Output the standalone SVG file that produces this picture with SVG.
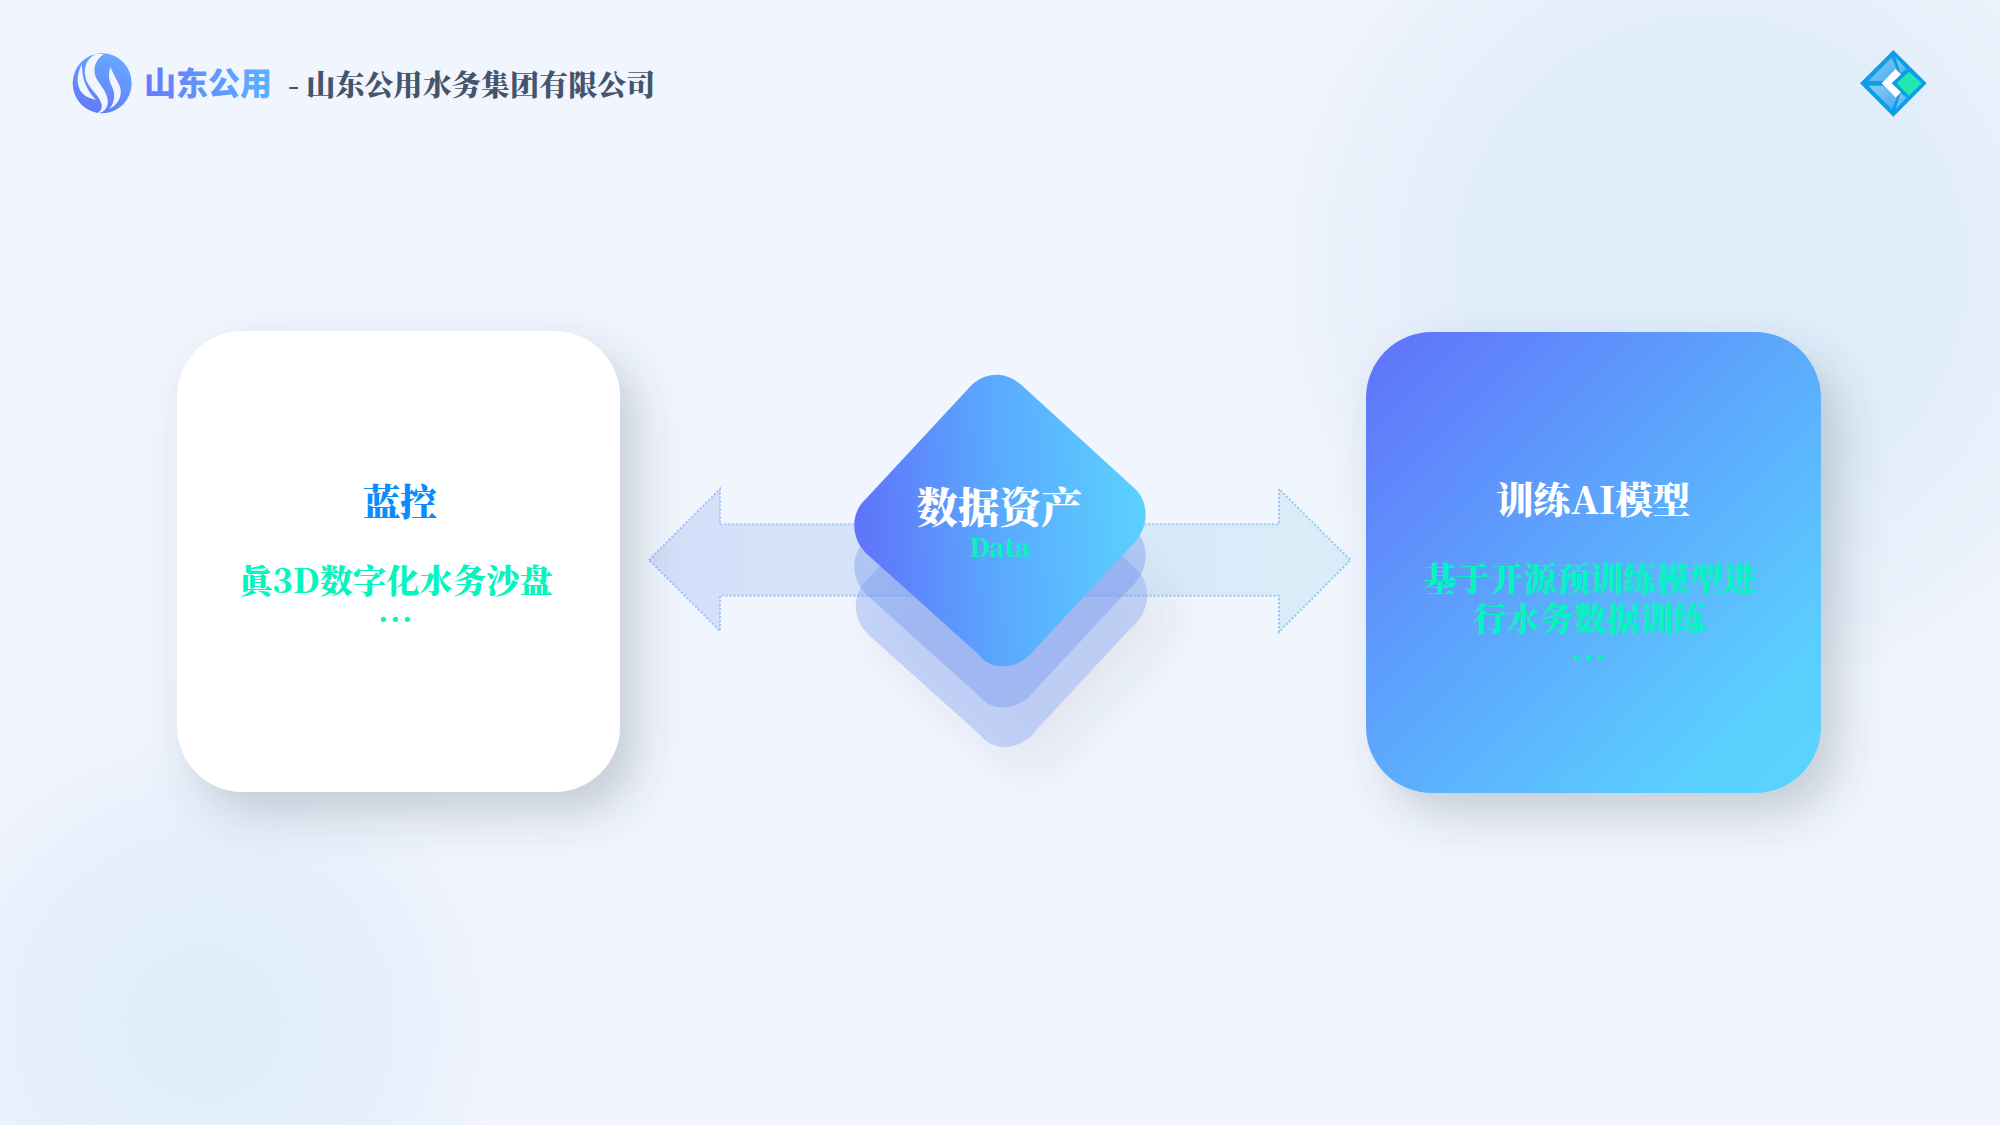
<svg xmlns="http://www.w3.org/2000/svg" width="2000" height="1125" viewBox="0 0 2000 1125">
<defs>
<style>
.s{font-family:"Noto Serif CJK SC","Liberation Serif",serif;font-weight:900;text-anchor:middle}
.g{fill:#04f5bd}
.w{fill:#fff}
</style>
<radialGradient id="bg1" gradientUnits="userSpaceOnUse" cx="1710" cy="270" r="500"><stop offset="0" stop-color="#e0edfa"/><stop offset=".45" stop-color="#e1edfa"/><stop offset=".75" stop-color="#eaf1fb"/><stop offset="1" stop-color="#f1f5fe" stop-opacity="0"/></radialGradient>
<radialGradient id="bg2" gradientUnits="userSpaceOnUse" cx="204" cy="1023" r="375"><stop offset="0" stop-color="#e0edfb"/><stop offset=".5" stop-color="#e6effb"/><stop offset="1" stop-color="#f1f5fe" stop-opacity="0"/></radialGradient>
<linearGradient id="blue" x1="0" y1="0" x2="1" y2="1"><stop offset="0" stop-color="#6071fb"/><stop offset=".5" stop-color="#5cabfd"/><stop offset=".85" stop-color="#5ad0ff"/><stop offset="1" stop-color="#5ad2ff"/></linearGradient>
<linearGradient id="dia" x1="0" y1="0.5" x2="1" y2="0.45"><stop offset="0" stop-color="#5f72fa"/><stop offset=".5" stop-color="#5aaafe"/><stop offset="1" stop-color="#5ad2ff"/></linearGradient>
<linearGradient id="arr" x1="0" y1="0" x2="1" y2="0"><stop offset="0" stop-color="#d4dffa"/><stop offset="1" stop-color="#d9eef8"/></linearGradient>
<linearGradient id="word" x1="0" y1="0" x2="1" y2="0"><stop offset="0" stop-color="#687af9"/><stop offset="1" stop-color="#5ab2ff"/></linearGradient>
<linearGradient id="logo" x1="0.7" y1="0" x2="0.3" y2="1"><stop offset="0" stop-color="#66aaff"/><stop offset="1" stop-color="#6478fb"/></linearGradient>
<linearGradient id="panel" x1="0" y1="0" x2="1" y2="1"><stop offset="0" stop-color="#8ccaf5"/><stop offset="1" stop-color="#4aaeee"/></linearGradient>
<filter id="sh" x="-30%" y="-30%" width="170%" height="170%"><feDropShadow dx="18" dy="22" stdDeviation="23" flood-color="#36474f" flood-opacity=".23"/></filter>
<filter id="sh2" x="-40%" y="-40%" width="190%" height="190%"><feDropShadow dx="24" dy="22" stdDeviation="20" flood-color="#36474f" flood-opacity=".2"/></filter>
<path id="rh" d="M969.800 387C985 371 1006 371 1021.700 385.300L1135 488.700C1150 503 1150 530 1130 547L1035.800 648.300C1020 670 992 672 979.200 655L868.300 555.300C850 539 850 513 866 498.700Z"/>
</defs>
<rect width="2000" height="1125" fill="#f1f5fe"/>
<rect width="2000" height="1125" fill="url(#bg1)"/>
<rect width="2000" height="1125" fill="url(#bg2)"/>

<g id="header">
<g id="logo-left" transform="translate(60 45) scale(.3333)">
<ellipse cx="126.500" cy="115" rx="88.500" ry="90" fill="url(#logo)"/>
<path d="M108 27C84 38 70 62 76 95C82 128 114 145 124 175C128 188 124 198 112 205C136 202 148 182 142 158C134 128 108 110 104 85C102 60 110 42 132 27Z" fill="#f1f5fe"/>
<path d="M66 58C48 90 48 128 70 148C82 159 96 162 108 164C92 150 80 130 72 105C67 88 66 74 66 58Z" fill="#f1f5fe"/>
<path d="M152 66C144 85 146 105 156 125C166 145 166 170 148 192C176 178 188 150 180 125C172 105 160 90 152 66Z" fill="#f1f5fe"/>
</g>
<text x="144" y="95" font-size="32" font-family="'Noto Sans CJK SC',sans-serif" font-weight="900" fill="url(#word)">山东公用</text>
<text x="288" y="95.500" font-size="29.100" font-family="'Noto Serif CJK SC','Liberation Serif',serif" font-weight="900" fill="#44546a" xml:space="preserve">- 山东公用水务集团有限公司</text>
<g id="logo-right" transform="translate(1855 45) scale(.3333)">
<path d="M115 15L215 115L115 215L15 115Z" fill="#0c9fe9"/>
<path d="M40 108L110 38L125 72L85 108Z" fill="url(#panel)"/>
<path d="M40 122L85 122L125 160L110 192Z" fill="url(#panel)"/>
<path d="M122 38L155 72L137 85Z" fill="url(#panel)"/>
<path d="M137 145L155 158L122 192Z" fill="url(#panel)"/>
<path d="M122 72L80 115L122 158L138 142L110 115L138 88Z" fill="#fff"/>
<path d="M162 80L200 115L162 152L125 115Z" fill="#20e8b0"/>
</g>
</g>

<g id="connectors">
<path id="double-arrow" d="M649 560L720 489V524.300H1279V489L1350.500 560L1279 632V595.700H720V631Z" fill="url(#arr)" stroke="#9cc4f6" stroke-width="2" stroke-dasharray="2 2"/>
</g>

<g id="card-left">
<rect x="177" y="331" width="443" height="461" rx="66" fill="#fff" filter="url(#sh)"/>
<text class="s" x="400" y="516" font-size="37" fill="#0a8cff">蓝控</text>
<text class="s g" x="396" y="593" font-size="33.300">眞3D数字化水务沙盘</text>
<text class="s g" x="396.500" y="622" font-size="28" letter-spacing="2.500">...</text>
</g>

<g id="card-right">
<rect x="1366" y="332" width="455" height="461" rx="66" fill="url(#blue)" filter="url(#sh)"/>
<text class="s w" x="1593" y="514" font-size="37.400">训练AI模型</text>
<text class="s g" x="1590" y="590.500" font-size="33.300">基于开源预训练模型进</text>
<text class="s g" x="1590" y="630.500" font-size="33.300">行水务数据训练</text>
<text class="s g" x="1590" y="660" font-size="28" letter-spacing="2.500">...</text>
</g>

<g id="data-stack">
<use href="#rh" x="1.500" y="80.600" fill="#7f9df0" fill-opacity=".38" filter="url(#sh2)"/>
<use href="#rh" y="41" fill="#6f92ee" fill-opacity=".38"/>
<use href="#rh" fill="url(#dia)"/>
<text class="s w" x="999.500" y="523" font-size="41.500">数据资产</text>
<text class="s g" x="1000" y="557" font-size="25.500">Data</text>
</g>
</svg>
